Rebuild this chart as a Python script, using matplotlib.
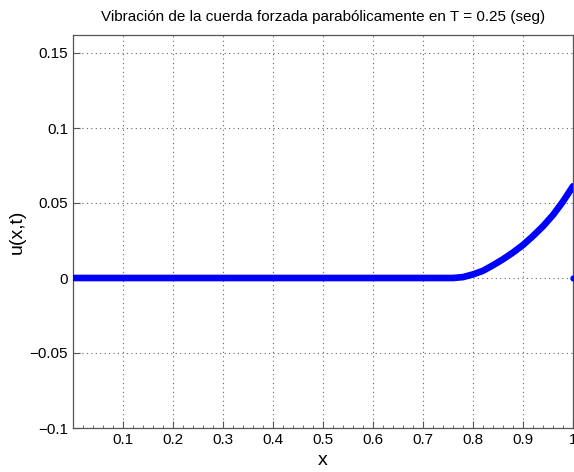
import matplotlib
matplotlib.use("Agg")
import matplotlib.pyplot as plt
from matplotlib.ticker import MultipleLocator

plt.rcParams['font.family'] = ['Liberation Sans', 'DejaVu Sans']
plt.rcParams['axes.unicode_minus'] = True

# curve: flat at zero, then rising near the right end
x_vals = [0.0, 0.2, 0.4, 0.6, 0.76, 0.78, 0.80, 0.82, 0.84, 0.86, 0.88,
          0.90, 0.92, 0.94, 0.96, 0.98, 1.00, 1.00]
u_vals = [0.0, 0.0, 0.0, 0.0, 0.0, 0.0006, 0.0024, 0.0048, 0.0085, 0.0125,
          0.0170, 0.0220, 0.0280, 0.0345, 0.0420, 0.0510, 0.0612, 0.0]

x_ticks = [0.1, 0.2, 0.3, 0.4, 0.5, 0.6, 0.7, 0.8, 0.9, 1.0]
x_tick_labels = ['0.1', '0.2', '0.3', '0.4', '0.5', '0.6', '0.7', '0.8', '0.9', '1']
y_ticks = [-0.1, -0.05, 0, 0.05, 0.1, 0.15]
y_tick_labels = ['\u22120.1', '\u22120.05', '0', '0.05', '0.1', '0.15']

fig = plt.figure(figsize=(5.74, 4.72), dpi=100)
ax = fig.add_axes([73 / 574, 44 / 472, 500 / 574, 393 / 472])

blue = '#0000ff'
# thick curve (all but the final drop) and thin closing segment
ax.plot(x_vals[:-1], u_vals[:-1], color=blue, lw=4.8, solid_capstyle='round', zorder=3)
ax.plot(x_vals[-2:], u_vals[-2:], color=blue, lw=0.8, alpha=0.7, zorder=3)
ax.plot(x_vals[-1:], u_vals[-1:], 'o', color=blue, ms=3.5, zorder=4)

ax.set_xlim(0, 1)
ax.set_ylim(-0.1, 0.162)
ax.set_xticks(x_ticks)
ax.set_xticklabels(x_tick_labels)
ax.set_yticks(y_ticks)
ax.set_yticklabels(y_tick_labels)
ax.xaxis.set_minor_locator(MultipleLocator(0.02))

ax.tick_params(which='both', direction='in', labelsize=11, color='#555555',
               top=False, right=False)
ax.tick_params(which='major', length=5)
ax.tick_params(which='minor', length=2.5)
ax.tick_params(axis='y', which='minor', left=False)
ax.grid(True, which='major', linestyle=(0, (1, 3)), color='#666666', lw=0.8)

for s in ax.spines.values():
    s.set_color('#555555')
    s.set_linewidth(0.9)

ax.set_title('Vibración de la cuerda forzada parabólicamente en T = 0.25 (seg)',
             fontsize=11, pad=10)
ax.set_xlabel('x', fontsize=14, labelpad=4)
ax.set_ylabel('u(x,t)', fontsize=14, labelpad=3)

fig.savefig('out.png', dpi=100)
